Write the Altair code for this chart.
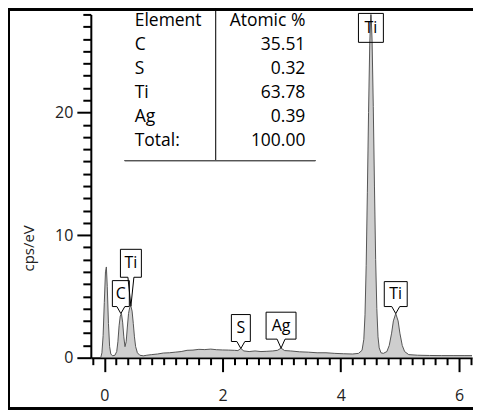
import altair as alt
import pandas as pd

# ---------------- data ----------------
energy = [-0.06, -0.04, -0.02, 0.00, 0.02, 0.035, 0.05, 0.07, 0.09, 0.11, 0.14, 0.18,
          0.21, 0.23, 0.25, 0.27, 0.29, 0.31, 0.33, 0.35, 0.37, 0.39, 0.41, 0.43, 0.45,
          0.47, 0.49, 0.51, 0.53, 0.56, 0.60, 0.66, 0.72, 0.80, 0.90, 1.00, 1.10, 1.20,
          1.30, 1.40, 1.50, 1.60, 1.70, 1.80, 1.90, 2.00, 2.10, 2.20, 2.26, 2.31, 2.36,
          2.45, 2.55, 2.65, 2.75, 2.85, 2.93, 2.99, 3.05, 3.15, 3.30, 3.45, 3.60, 3.75,
          3.90, 4.05, 4.20, 4.30, 4.36, 4.39, 4.41, 4.43, 4.45, 4.47, 4.49, 4.51, 4.53,
          4.55, 4.57, 4.59, 4.61, 4.63, 4.65, 4.68, 4.72, 4.78, 4.82, 4.86, 4.89, 4.93,
          4.97, 5.00, 5.04, 5.08, 5.15, 5.30, 5.50, 5.70, 5.90, 6.10, 6.25]
cps = [0.0, 0.4, 1.8, 4.5, 7.0, 7.4, 5.8, 2.8, 0.9, 0.3, 0.15, 0.2,
       0.5, 1.3, 2.6, 3.4, 3.6, 2.9, 1.7, 0.9, 1.3, 2.5, 3.6, 4.1, 4.2,
       3.8, 2.8, 1.7, 0.9, 0.4, 0.2, 0.15, 0.2, 0.25, 0.3, 0.38, 0.4, 0.45,
       0.5, 0.6, 0.62, 0.68, 0.66, 0.7, 0.65, 0.63, 0.62, 0.6, 0.58, 0.75, 0.55,
       0.5, 0.55, 0.5, 0.52, 0.55, 0.6, 0.78, 0.58, 0.55, 0.48, 0.45, 0.4, 0.4,
       0.35, 0.32, 0.3, 0.35, 0.6, 1.5, 3.5, 7.5, 13.5, 20.0, 25.5, 28.5, 25.8,
       20.5, 14.0, 8.0, 4.0, 1.7, 0.8, 0.4, 0.35, 0.5, 1.0, 2.0, 3.0, 3.6,
       3.0, 2.0, 1.0, 0.5, 0.25, 0.2, 0.18, 0.17, 0.17, 0.17, 0.17]

table_element = ["Element", "C", "S", "Ti", "Ag", "Total:"]
table_atomic = ["Atomic %", "35.51", "0.32", "63.78", "0.39", "100.00"]

peak_label = ["C", "Ti", "S", "Ag", "Ti", "Ti"]
peak_energy = [0.28, 0.45, 2.31, 2.99, 4.93, 4.51]
peak_cps = [3.6, 4.2, 0.75, 0.78, 3.6, 28.0]

x_ticks = [round(-0.2 + 0.2 * i, 1) for i in range(33)]   # every 0.2, labelled at 0, 2, 4, 6
y_ticks = list(range(0, 29))                              # every 1, labelled at 0, 10, 20

# ---------------- styling ----------------
FONT = "Open Sans"
XDOM = [-0.228, 6.22]
YDOM = [0, 28]
W, H = 382, 344

# callout geometry per label: (box width, box height, pointer length, pointer half-base)
geom = [(17, 26, 7, 4), (21, 28, 29, 3), (19, 27, 7, 4), (30, 27, 9, 4), (23, 25, 7, 4), (25, 29, -29, 0)]

spec = pd.DataFrame({"energy": energy, "cps": cps})

xs = alt.Scale(domain=XDOM, nice=False, zero=False)
ys = alt.Scale(domain=YDOM, nice=False, zero=False)

x_major_test = "abs(datum.value - round(datum.value)) < 1e-6 && round(datum.value) % 2 == 0"
y_major_test = "round(datum.value) % 10 == 0"

AX = alt.Axis(
    values=x_ticks,
    tickSize={"condition": {"test": x_major_test, "value": 14}, "value": 7},
    labelExpr=f"({x_major_test}) ? format(datum.value, 'd') : ''",
    tickWidth=2, tickColor="black",
    domainColor="black", domainWidth=2, labelFontSize=16, labelFont=FONT,
    labelColor="#222222", labelPadding=16, grid=False, title=None,
    labelOverlap=False)
AY = alt.Axis(
    values=y_ticks,
    tickSize={"condition": {"test": y_major_test, "value": 14}, "value": 8},
    labelExpr=f"({y_major_test}) ? format(datum.value, 'd') : ''",
    tickWidth=2, tickColor="black",
    domainColor="black", domainWidth=2, labelFontSize=16, labelFont=FONT,
    labelColor="#222222", labelPadding=4, grid=False, labelOverlap=False,
    title="cps/eV", titleFont=FONT, titleFontSize=15, titleFontWeight="normal",
    titleColor="#222222", titleAngle=270, titleX=-62, titleY=234,
    titleAlign="center", titleBaseline="middle")

area = alt.Chart(spec).mark_area(
    color="#b9b9b9", clip=True,
    line={"color": "#555555", "strokeWidth": 1}
).encode(
    x=alt.X("energy:Q", scale=xs, axis=AX, title=None),
    y=alt.Y("cps:Q", scale=ys, axis=AY, title="cps/eV"),
)

layers = [area]

lab = pd.DataFrame({"energy": peak_energy, "cps": peak_cps, "label": peak_label,
                    "i": list(range(len(peak_label)))})
for i, (w, h, p, a) in enumerate(geom):
    if p < 0:
        top, bot = -1, h - 1
        path = f"M{-w/2},{top}L{w/2},{top}L{w/2},{bot}L{-w/2},{bot}Z"
    else:
        top, bot = -(p + h), -p
        path = (f"M{-w/2},{top}L{w/2},{top}L{w/2},{bot}L{a},{bot}L0,0"
                f"L{-a},{bot}L{-w/2},{bot}Z")
    dy = (top + bot) / 2
    base = alt.Chart(lab).transform_filter(f"datum.i == {i}").encode(
        x=alt.X("energy:Q", scale=xs, axis=AX, title=None),
        y=alt.Y("cps:Q", scale=ys, axis=AY, title="cps/eV"),
    )
    box = base.mark_point(shape=path, size=4, filled=False, stroke="black",
                          strokeWidth=1, opacity=1)
    txt = base.mark_text(dy=dy, font=FONT, fontSize=16, color="black",
                         baseline="middle").encode(text="label:N")
    layers += [box, txt]

tab = pd.DataFrame({"el": table_element, "at": table_atomic,
                    "row": list(range(len(table_element)))})
tbase = alt.Chart(tab).transform_calculate(py="datum.row * 24 + 6.5")
col1 = tbase.mark_text(align="left", baseline="middle", font=FONT, fontSize=17.5,
                       color="black").encode(
    x=alt.value(44), y=alt.Y("py:Q", scale=None, axis=None), text="el:N")
col2 = tbase.mark_text(align="right", baseline="middle", font=FONT, fontSize=17.5,
                       color="black").encode(
    x=alt.value(215), y=alt.Y("py:Q", scale=None, axis=None), text="at:N")
vline = alt.Chart(tab).mark_rule(color="#333333", strokeWidth=1).encode(
    x=alt.value(125), y=alt.value(-7), y2=alt.value(146.5))
hline = alt.Chart(tab).mark_rule(color="#555555", strokeWidth=1).encode(
    x=alt.value(34), x2=alt.value(225), y=alt.value(146.5))

# frame (left, top, bottom)
f_top = alt.Chart(tab).mark_rule(color="black", strokeWidth=2).encode(
    x=alt.value(-83), x2=alt.value(383), y=alt.value(-5))
f_left = alt.Chart(tab).mark_rule(color="black", strokeWidth=2).encode(
    x=alt.value(-82), y=alt.value(-6), y2=alt.value(396))
f_bot = alt.Chart(tab).mark_rule(color="black", strokeWidth=2).encode(
    x=alt.value(-83), x2=alt.value(383), y=alt.value(395))

layers += [col1, col2, vline, hline, f_top, f_left, f_bot]

chart = alt.layer(*layers).properties(
    width=W, height=H,
    autosize=alt.AutoSizeParams(type="none"),
    padding={"left": 83, "top": 6, "right": 1, "bottom": 52},
    background="white",
).configure_view(stroke=None)

chart.save("out.html", embed_options={"renderer": "svg", "actions": False})
